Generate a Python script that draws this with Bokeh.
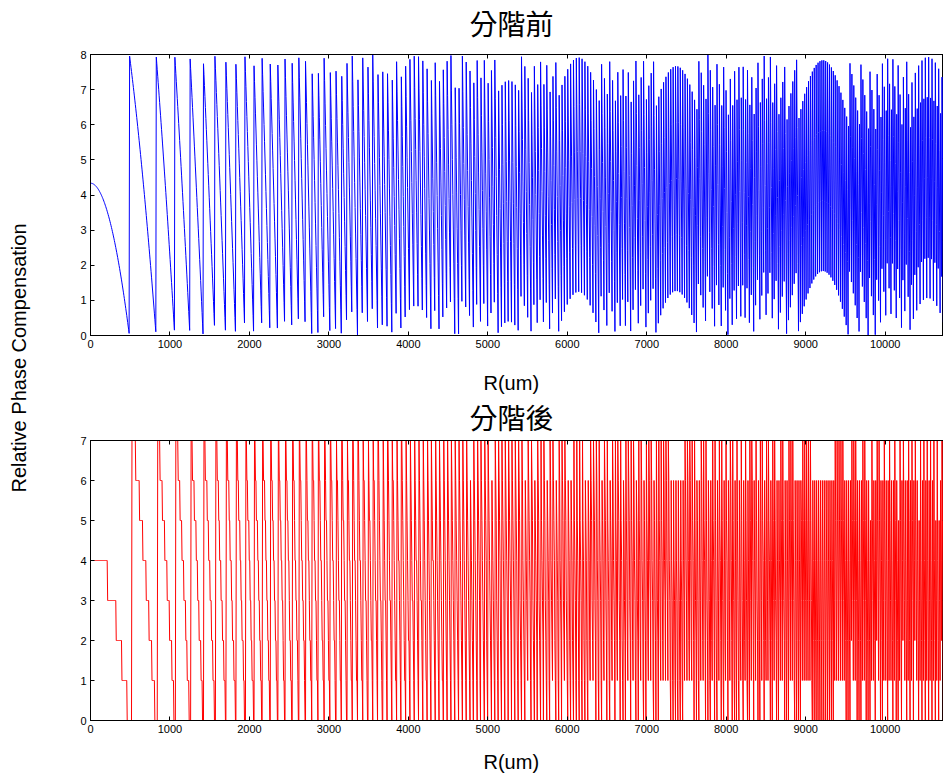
import numpy as np
from bokeh.plotting import figure
from bokeh.layouts import row, column
from bokeh.models import Title, LinearAxis, FixedTicker, Range1d, CustomLabelingPolicy
from bokeh.embed import file_html
from bokeh.resources import INLINE

# ---------- values ----------
# The curve is a wrapped lens phase sampled on a regular radius grid.
# Period (r^2 per cycle), sampling step, focal length and centre phase were
# read from the zero crossings and from the moire arcs that the sampling
# leaves near R = 4600, 5300, 6140, 7370 and 9220 um.
FOCAL_UM = 200000.0          # focal length
PERIOD_R2_UM2 = 441930.5     # r^2 per full 2*pi cycle (= 2 * lambda * f)
R_STEP_UM = 5.9996           # sampling step of R
R_MAX_UM = 10740.0           # last sampled radius
CENTER_CYCLES = 0.542        # phase at R = 0 (fraction of a cycle)
LEVELS = 8                   # number of phase levels

titles = ["分階前", "分階後"]
x_label = "R(um)"
y_label = "Relative Phase Compensation"
x_ticks = [0, 1000, 2000, 3000, 4000, 5000, 6000, 7000, 8000, 9000, 10000]
y_ticks_top = [0, 1, 2, 3, 4, 5, 6, 7, 8]
y_ticks_bottom = [0, 1, 2, 3, 4, 5, 6, 7]

r = np.arange(0.0, R_MAX_UM + R_STEP_UM / 2, R_STEP_UM)
wavelength = PERIOD_R2_UM2 / (2 * FOCAL_UM)
phase = (np.sqrt(r ** 2 + FOCAL_UM ** 2) - FOCAL_UM) / wavelength
cycles = CENTER_CYCLES - phase
phase_before = LEVELS * (cycles - np.floor(cycles))
phase_after = np.mod(np.round(phase_before), LEVELS)

X_END = 10734
FONT = "Liberation Sans"
CJK = "Noto Sans CJK TC"
NO_LABELS = CustomLabelingPolicy(code="""
const all = Array.from(indices);
for (const i of all) indices.unset(i);
return indices;
""")


def blank_axis(standoff, ticks_in):
    # an axis without labels: draws the inward ticks on the top edge, or only
    # keeps some room below the tick labels
    return LinearAxis(ticker=FixedTicker(ticks=x_ticks), major_tick_in=ticks_in,
                      major_tick_out=0, minor_tick_line_color=None,
                      major_tick_line_color="black" if ticks_in else None,
                      axis_line_color="black" if ticks_in else None,
                      major_label_policy=NO_LABELS, major_label_standoff=standoff,
                      major_label_text_font_size="1px")


def make_panel(y, ymax, yticks, color, title, height, mb_bottom, gap_below, top_standoff):
    p = figure(width=895, height=height, x_range=Range1d(0, X_END),
               y_range=Range1d(0, ymax), output_backend="svg",
               toolbar_location=None, min_border_left=42, min_border_right=0,
               min_border_top=5, min_border_bottom=mb_bottom)
    p.line(r, y, line_color=color, line_width=1)
    p.grid.visible = False
    p.outline_line_color = "black"
    p.outline_line_width = 1

    p.xaxis.ticker = FixedTicker(ticks=x_ticks)
    p.yaxis.ticker = FixedTicker(ticks=yticks)
    for ax in (p.xaxis[0], p.yaxis[0]):
        ax.major_tick_in = 4
        ax.major_tick_out = 0
        ax.minor_tick_line_color = None
        ax.axis_line_color = "black"
        ax.major_tick_line_color = "black"
        ax.major_label_text_font = FONT
        ax.major_label_text_font_size = "11px"
        ax.major_label_text_color = "black"
        ax.major_label_standoff = 4

    p.add_layout(blank_axis(gap_below, 0), "below")
    p.add_layout(Title(text=x_label, align="left", offset=393, text_font=FONT,
                       text_font_size="20px", text_font_style="normal",
                       text_color="black", standoff=0), "below")

    p.add_layout(blank_axis(top_standoff, 4), "above")

    p.title.text = title
    p.title.align = "left"
    p.title.offset = 379
    p.title.text_font = CJK
    p.title.text_font_size = "28px"
    p.title.text_font_style = "normal"
    p.title.text_color = "black"
    p.title.standoff = 0
    return p


p1 = make_panel(phase_before, 8, y_ticks_top, "#0000ff", titles[0], 394, 59, 15, 8)
p2 = make_panel(phase_after, 7, y_ticks_bottom, "#ff0000", titles[1], 383, 57, 9, 0)

lab = figure(width=48, height=777, output_backend="svg", toolbar_location=None,
             min_border_left=3, min_border_right=0, min_border_top=0, min_border_bottom=62,
             x_range=Range1d(0, 1), y_range=Range1d(0, 1))
lab.axis.visible = False
lab.grid.visible = False
lab.outline_line_color = None
lab.add_layout(Title(text=y_label, align="center", text_font=FONT,
                     text_font_size="20px", text_font_style="normal",
                     text_color="black"), "left")

layout = row(lab, column(p1, p2))
open("out.html", "w").write(file_html(layout, INLINE))
